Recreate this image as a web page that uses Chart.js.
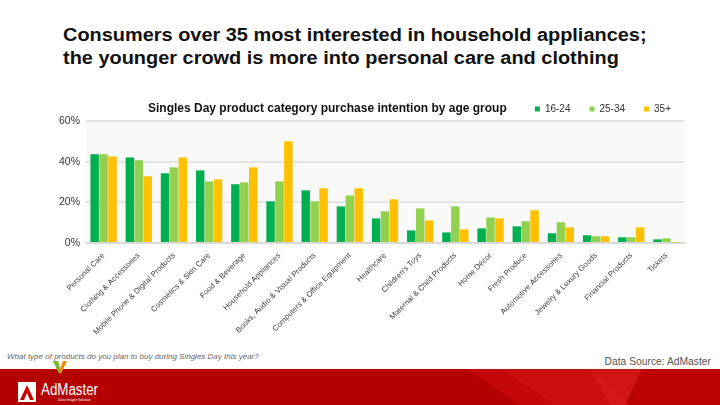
<!DOCTYPE html>
<html><head><meta charset="utf-8">
<script src="https://cdn.jsdelivr.net/npm/chart.js@4.4.0/dist/chart.umd.min.js"></script>
<style>
html,body{margin:0;padding:0;background:#fff;width:720px;height:405px;overflow:hidden;font-family:"Liberation Sans",Arial,sans-serif;}
#title{position:absolute;left:63px;top:24px;font-weight:bold;font-size:18px;line-height:22.5px;color:#111;transform:scaleX(1.107);transform-origin:0 0;white-space:nowrap;}
#ctitle{position:absolute;left:148px;top:101px;font-weight:bold;font-size:12px;color:#111;white-space:nowrap;}
#wrap{position:absolute;left:0;top:80px;width:720px;height:268px;}
#q{position:absolute;left:7px;top:352px;font-style:italic;font-size:8px;color:#666;white-space:nowrap;}
#src{position:absolute;right:9px;top:356px;font-size:10.3px;color:#555;white-space:nowrap;}
#footer{position:absolute;left:0;top:369px;width:720px;height:36px;background:#b50000;overflow:hidden;}
</style></head>
<body>
<div id="title">Consumers over 35 most interested in household appliances;<br>the younger crowd is more into personal care and clothing</div>
<div id="wrap"><canvas id="c"></canvas></div>
<div id="ctitle">Singles Day product category purchase intention by age group</div>
<div id="q">What type of products do you plan to buy during Singles Day this year?</div>
<div id="src">Data Source: AdMaster</div>
<div id="footer">
<svg width="720" height="36" style="position:absolute;left:0;top:0">
<polygon points="468,0 500,0 555,36 520,36" fill="#c40808"/>
<polygon points="500,0 590,0 630,36 555,36" fill="#d01010" opacity="0.85"/>
<polygon points="590,0 642,0 625,36 610,36" fill="#d81a1a" opacity="0.8"/>
<polygon points="642,0 720,0 720,36 630,36" fill="#bd0202"/>
<rect x="18" y="13" width="18" height="20" fill="#fff"/>
<polygon points="20,31 27,16 34,31 30,31 27,24 24,31" fill="#c00"/>
<text x="41" y="26" font-family="Liberation Sans, Arial" font-size="16" fill="#fff" textLength="57" lengthAdjust="spacingAndGlyphs">AdMaster</text>
<text x="58" y="32" font-family="Liberation Sans, Arial" font-size="3.5" fill="#fff">Data·Insight·Solution</text>
</svg>
</div>
<svg width="18" height="14" style="position:absolute;left:51px;top:361px">
<polygon points="2,0 7,0 10,10 8,13" fill="#7cb82f"/>
<polygon points="12,0 16,0 10,13 8,10" fill="#f08a00"/>
</svg>
<script>
const categories = ["Personal Care","Clothing & Accessories","Mobile Phone & Digital Products","Cosmetics & Skin Care","Food & Beverage","Household Appliances","Books, Audio & Visual Products","Computers & Office Equipment","Healthcare","Children's Toys","Maternal & Child Products","Home Décor","Fresh Produce","Automotive Accessories","Jewelry & Luxury Goods","Financial Products","Tickets"];
const age16_24 = [43.6,42.1,34.3,35.7,28.9,20.5,25.9,18.0,12.1,6.2,5.2,7.2,8.2,4.8,3.8,2.8,1.8];
const age25_34 = [43.6,40.7,37.2,30.3,29.8,30.3,20.5,23.4,15.6,17.0,18.0,12.6,10.7,10.2,3.3,2.8,2.3];
const age35plus = [42.6,32.8,42.1,31.3,37.2,50.0,26.9,26.9,21.5,11.1,6.7,12.1,16.1,7.7,3.3,7.7,0.3];
const yTicks = [0,20,40,60];

const bgPlugin = {id:'bg',
  afterLayout(ch){ if(ch.legend){ ch.legend.right += 6; ch.legend.left += 6; ch.legend.top += 3; ch.legend.bottom += 3; } },
  beforeDraw(ch){const a=ch.chartArea,c=ch.ctx;c.save();c.fillStyle='#f9f9f9';c.fillRect(a.left,a.top,a.right-a.left,a.bottom-a.top);c.restore();}};
const font = "'Liberation Sans', Arial, sans-serif";
new Chart(document.getElementById('c'),{
  type:'bar',
  data:{labels:categories,datasets:[
    {label:'16-24',data:age16_24,backgroundColor:'#00b050'},
    {label:'25-34',data:age25_34,backgroundColor:'#92d050'},
    {label:'35+',data:age35plus,backgroundColor:'#ffc000'}
  ]},
  options:{
    responsive:true,maintainAspectRatio:false,animation:false,
    layout:{padding:{left:0,right:36,top:2,bottom:0}},
    datasets:{bar:{categoryPercentage:0.76,barPercentage:0.95,borderWidth:0}},
    plugins:{
      legend:{position:'top',align:'end',labels:{boxWidth:5,boxHeight:5,padding:19,color:'#333',font:{family:font,size:10}}},
      tooltip:{enabled:false},title:{display:false}
    },
    scales:{
      x:{grid:{display:false},border:{color:'#d9d9d9',width:2},
         ticks:{autoSkip:false,minRotation:45,maxRotation:45,color:'#404040',padding:0,font:{family:font,size:7.8}},
         afterFit(s){s.height=105;}},
      y:{min:0,max:60,afterBuildTicks(s){s.ticks=yTicks.map(v=>({value:v}));},
         grid:{color:'#e4e4e4',lineWidth:2,drawTicks:false},border:{display:false},
         ticks:{padding:6,color:'#333',font:{family:font,size:10.5},callback:v=>v+'%'},
         afterFit(s){s.width=86;}}
    }
  },
  plugins:[bgPlugin]
});
</script>
</body></html>
